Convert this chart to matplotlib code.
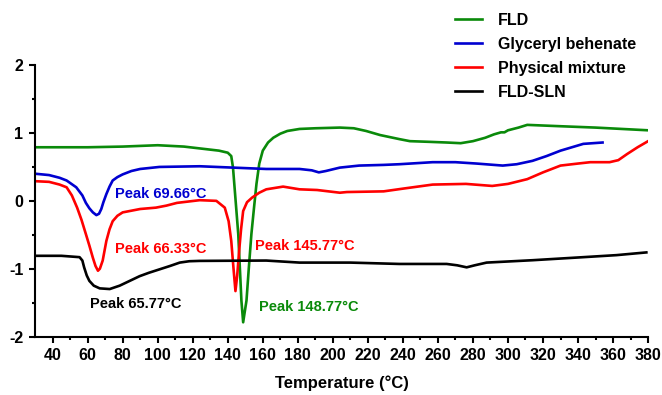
import matplotlib.pyplot as plt
from matplotlib.ticker import MultipleLocator

plt.rcParams['font.family'] = ['Liberation Sans', 'DejaVu Sans']
plt.rcParams['font.weight'] = 'bold'
plt.rcParams['axes.unicode_minus'] = False

# DSC thermograms (temperature in C, heat flow)
fld_t = [30, 45, 60, 80, 100, 115, 125, 135, 140, 142, 143, 144.5, 146, 147.8, 148.8,
         149.8, 150.7, 152, 153.5, 155, 156.4, 158, 160, 163, 166, 170, 174, 181, 190,
         204, 212, 219, 227, 238, 244, 255, 265, 273, 280, 287, 292, 296, 298, 300, 306,
         311, 330, 350, 380]
fld_v = [0.79, 0.79, 0.79, 0.80, 0.82, 0.80, 0.77, 0.74, 0.71, 0.66, 0.49, 0.0, -0.49,
         -1.47, -1.79, -1.62, -1.47, -1.0, -0.49, -0.1, 0.25, 0.55, 0.74, 0.86, 0.93,
         0.99, 1.03, 1.06, 1.07, 1.08, 1.07, 1.03, 0.97, 0.91, 0.88, 0.87, 0.86, 0.85,
         0.88, 0.93, 0.98, 1.01, 1.01, 1.04, 1.08, 1.12, 1.10, 1.08, 1.04]

gb_t = [30, 38, 44, 48, 53.5, 57, 59, 61, 63, 65, 66.5, 67.8, 69, 70.7, 72.5, 74.3, 77,
        80, 85, 90, 101, 124, 143, 162, 181, 188, 192, 196, 204, 215, 229, 238, 257, 270,
        282, 297, 305, 314, 322, 330, 343, 354]
gb_v = [0.40, 0.38, 0.34, 0.30, 0.20, 0.08, -0.03, -0.11, -0.17, -0.21, -0.19, -0.12,
        -0.02, 0.10, 0.21, 0.30, 0.35, 0.39, 0.44, 0.47, 0.50, 0.51, 0.49, 0.47, 0.47,
        0.45, 0.42, 0.44, 0.49, 0.52, 0.53, 0.54, 0.57, 0.57, 0.55, 0.52, 0.54, 0.59,
        0.66, 0.74, 0.84, 0.86]

pm_t = [30, 38, 44, 48, 51, 54, 56.5, 59, 61, 63, 64.5, 65.9, 67, 68.6, 70.7, 72.5, 74.3,
        77, 80, 90, 99, 105, 111, 124, 133.5, 138.3, 140.5, 142, 143.3, 144.4, 145.4,
        146.5, 147.6, 148.8, 151, 154, 158, 162, 171.6, 181, 191, 204, 208, 229, 240,
        257, 276, 291, 300, 311, 320, 330, 340, 347, 358, 363, 368, 374, 380]
pm_v = [0.29, 0.28, 0.24, 0.20, 0.08, -0.10, -0.28, -0.49, -0.66, -0.84, -0.96, -1.03,
        -1.0, -0.88, -0.59, -0.42, -0.30, -0.22, -0.17, -0.12, -0.10, -0.07, -0.03,
        0.01, 0.0, -0.10, -0.30, -0.59, -1.0, -1.33, -1.1, -0.74, -0.42, -0.15, -0.02,
        0.05, 0.12, 0.17, 0.21, 0.17, 0.16, 0.12, 0.13, 0.14, 0.18, 0.24, 0.25, 0.22,
        0.25, 0.32, 0.42, 0.52, 0.55, 0.57, 0.57, 0.60, 0.69, 0.79, 0.88]

sln_t = [30, 45, 55.4, 57, 58, 59.5, 61, 63.5, 66.9, 72.6, 78.3, 84, 89.7, 95, 101,
         107, 112.6, 118, 124, 162, 181, 210, 238, 265, 271, 276.4, 281, 287.8, 314,
         343, 362, 379]
sln_v = [-0.81, -0.81, -0.83, -0.88, -0.98, -1.10, -1.18, -1.25, -1.29, -1.30, -1.25,
         -1.18, -1.11, -1.06, -1.01, -0.96, -0.91, -0.89, -0.885, -0.88, -0.91, -0.91,
         -0.93, -0.93, -0.95, -0.98, -0.95, -0.91, -0.875, -0.83, -0.80, -0.76]

series = [
    ('FLD', fld_t, fld_v, '#0a8a0a'),
    ('Glyceryl behenate', gb_t, gb_v, '#0000d0'),
    ('Physical mixture', pm_t, pm_v, '#ff0000'),
    ('FLD-SLN', sln_t, sln_v, '#000000'),
]

# peak labels: text, x, y, colour
peaks = [
    ('Peak 69.66°C', 75.5, 0.10, '#0000d0'),
    ('Peak 66.33°C', 75.5, -0.71, '#ff0000'),
    ('Peak 65.77°C', 61.5, -1.52, '#000000'),
    ('Peak 145.77°C', 155.4, -0.67, '#ff0000'),
    ('Peak 148.77°C', 157.9, -1.57, '#0a8a0a'),
]

fig = plt.figure(figsize=(6.62, 3.95), dpi=100)
ax = fig.add_axes([0.053, 0.148, 0.926, 0.687])

for name, t, v, c in series:
    ax.plot(t, v, color=c, lw=1.9, label=name)

for txt, x, y, c in peaks:
    ax.text(x, y, txt, color=c, fontsize=10.5, fontweight='bold', va='center', ha='left')

ax.set_xlim(30, 380)
ax.set_ylim(-2, 2)
ax.yaxis.set_major_locator(MultipleLocator(1))
ax.yaxis.set_minor_locator(MultipleLocator(0.5))
ax.set_xticks(range(40, 381, 20))
ax.set_xticks(range(50, 380, 20), minor=True)

for s in ['top', 'right']:
    ax.spines[s].set_visible(False)
for s in ['left', 'bottom']:
    ax.spines[s].set_linewidth(1.5)
ax.tick_params(which='major', length=4.5, width=1.5, labelsize=11.5, pad=4)
ax.tick_params(which='minor', length=2.5, width=1.5)
for lab in ax.get_xticklabels() + ax.get_yticklabels():
    lab.set_fontweight('bold')

ax.set_xlabel('Temperature (°C)', fontsize=12, fontweight='bold', labelpad=9)

leg = fig.legend(loc='upper left', bbox_to_anchor=(0.687, 0.968), frameon=False,
                 handlelength=1.7, handletextpad=1.0, labelspacing=0.57,
                 borderpad=0, borderaxespad=0,
                 prop={'weight': 'bold', 'size': 11.5})

fig.savefig('out.png', dpi=100)
